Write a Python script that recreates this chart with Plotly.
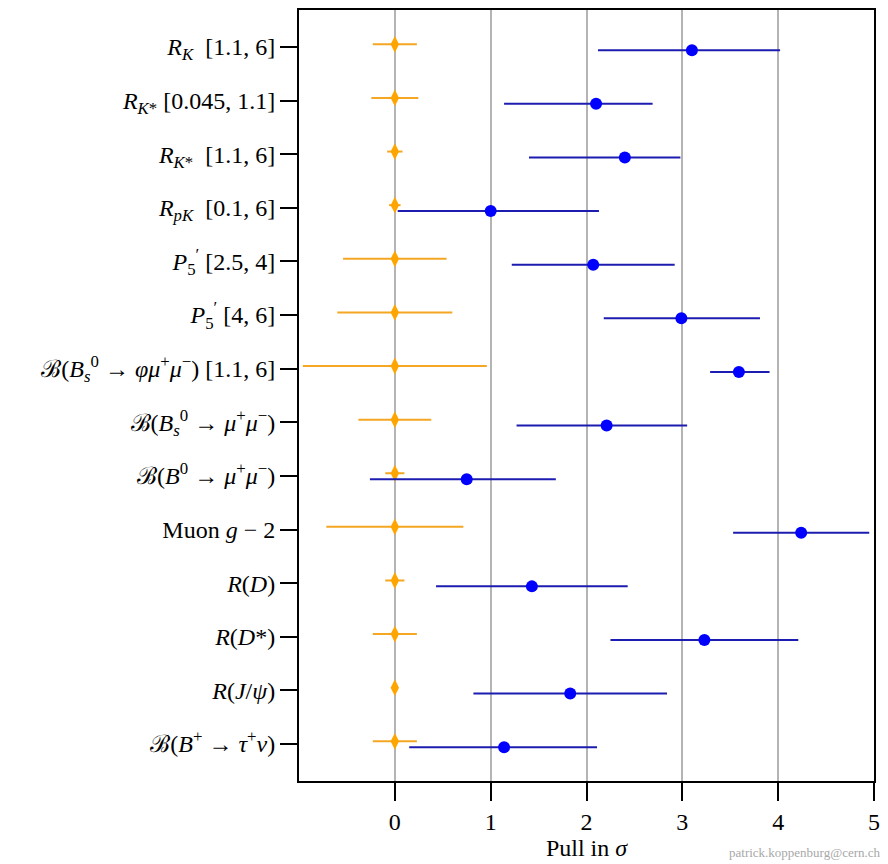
import plotly.graph_objects as go

labels = [
    "<i>R</i><sub><i>K</i></sub>  [1.1, 6]",
    "<i>R</i><sub><i>K</i>*</sub> [0.045, 1.1]",
    "<i>R</i><sub><i>K</i>*</sub>  [1.1, 6]",
    "<i>R</i><sub><i>pK</i></sub>  [0.1, 6]",
    "<i>P</i><sub>5</sub><sup>′</sup> [2.5, 4]",
    "<i>P</i><sub>5</sub><sup>′</sup> [4, 6]",
    "ℬ(<i>B</i><sub><i>s</i></sub><sup>0</sup> → <i>φμ</i><sup>+</sup><i>μ</i><sup>−</sup>) [1.1, 6]",
    "ℬ(<i>B</i><sub><i>s</i></sub><sup>0</sup> → <i>μ</i><sup>+</sup><i>μ</i><sup>−</sup>)",
    "ℬ(<i>B</i><sup>0</sup> → <i>μ</i><sup>+</sup><i>μ</i><sup>−</sup>)",
    "Muon <i>g</i> − 2",
    "<i>R</i>(<i>D</i>)",
    "<i>R</i>(<i>D</i>*)",
    "<i>R</i>(<i>J</i>/<i>ψ</i>)",
    "ℬ(<i>B</i><sup>+</sup> → <i>τ</i><sup>+</sup><i>ν</i>)",
]

# SM predictions (pull 0) with uncertainty half-widths
sm_value = [0, 0, 0, 0, 0, 0, 0, 0, 0, 0, 0, 0, 0, 0]
sm_err = [0.23, 0.245, 0.08, 0.06, 0.54, 0.60, 0.96, 0.38, 0.10, 0.715, 0.10, 0.23, 0.0, 0.23]

# Measurements (pull in sigma) with asymmetric uncertainties
meas_value = [3.10, 2.10, 2.40, 1.00, 2.07, 2.99, 3.59, 2.21, 0.75, 4.24, 1.43, 3.23, 1.83, 1.14]
meas_lo = [2.12, 1.14, 1.40, 0.03, 1.22, 2.18, 3.29, 1.27, -0.26, 3.53, 0.43, 2.25, 0.82, 0.15]
meas_hi = [4.02, 2.69, 2.98, 2.13, 2.92, 3.81, 3.91, 3.05, 1.68, 4.95, 2.43, 4.21, 2.84, 2.11]

n = len(labels)
ypos = [n - 1 - i for i in range(n)]
y_sm = [y + 0.05 for y in ypos]
y_meas = [y - 0.06 for y in ypos]

fig = go.Figure()
fig.add_trace(go.Scatter(
    x=sm_value, y=y_sm, mode="markers",
    marker=dict(symbol="diamond-tall", size=12, color="#FFA500"),
    error_x=dict(type="data", array=sm_err, symmetric=True, color="#F5A623",
                 thickness=2, width=0),
    showlegend=False, hoverinfo="skip",
))
fig.add_trace(go.Scatter(
    x=meas_value, y=y_meas, mode="markers",
    marker=dict(symbol="circle", size=12, color="#0000FF"),
    error_x=dict(type="data",
                 array=[h - v for h, v in zip(meas_hi, meas_value)],
                 arrayminus=[v - l for v, l in zip(meas_value, meas_lo)],
                 color="#1C1CB0", thickness=2, width=0),
    showlegend=False, hoverinfo="skip",
))

font_family = "Liberation Serif, DejaVu Serif, serif"

fig.update_layout(
    width=888, height=864,
    margin=dict(l=299, r=10, t=8, b=83),
    plot_bgcolor="white", paper_bgcolor="white",
    font=dict(family=font_family, size=24, color="black"),
)
fig.update_xaxes(
    range=[-1, 5], tickvals=[0, 1, 2, 3, 4, 5],
    ticks="outside", ticklen=18, tickwidth=2, tickcolor="black",
    showline=True, linecolor="black", linewidth=2, mirror=True,
    showgrid=True, gridcolor="#b4b4b4", gridwidth=1.5,
    zeroline=False,
    tickfont=dict(size=24),
    title=dict(text="Pull in <i>σ</i>", font=dict(size=24), standoff=2),
)
fig.update_yaxes(
    range=[-0.69, 13.69], tickvals=ypos, ticktext=labels,
    ticks="outside", ticklen=17, tickwidth=2, tickcolor="black",
    showline=True, linecolor="black", linewidth=2, mirror=True,
    showgrid=False, zeroline=False,
    tickfont=dict(size=24),
)
fig.add_annotation(
    text="patrick.koppenburg@cern.ch", xref="paper", yref="paper",
    x=1.015, y=-0.093, xanchor="right", yanchor="middle", showarrow=False,
    font=dict(size=13, color="#a8a8a8", family=font_family),
)

fig.write_html("out.html")
